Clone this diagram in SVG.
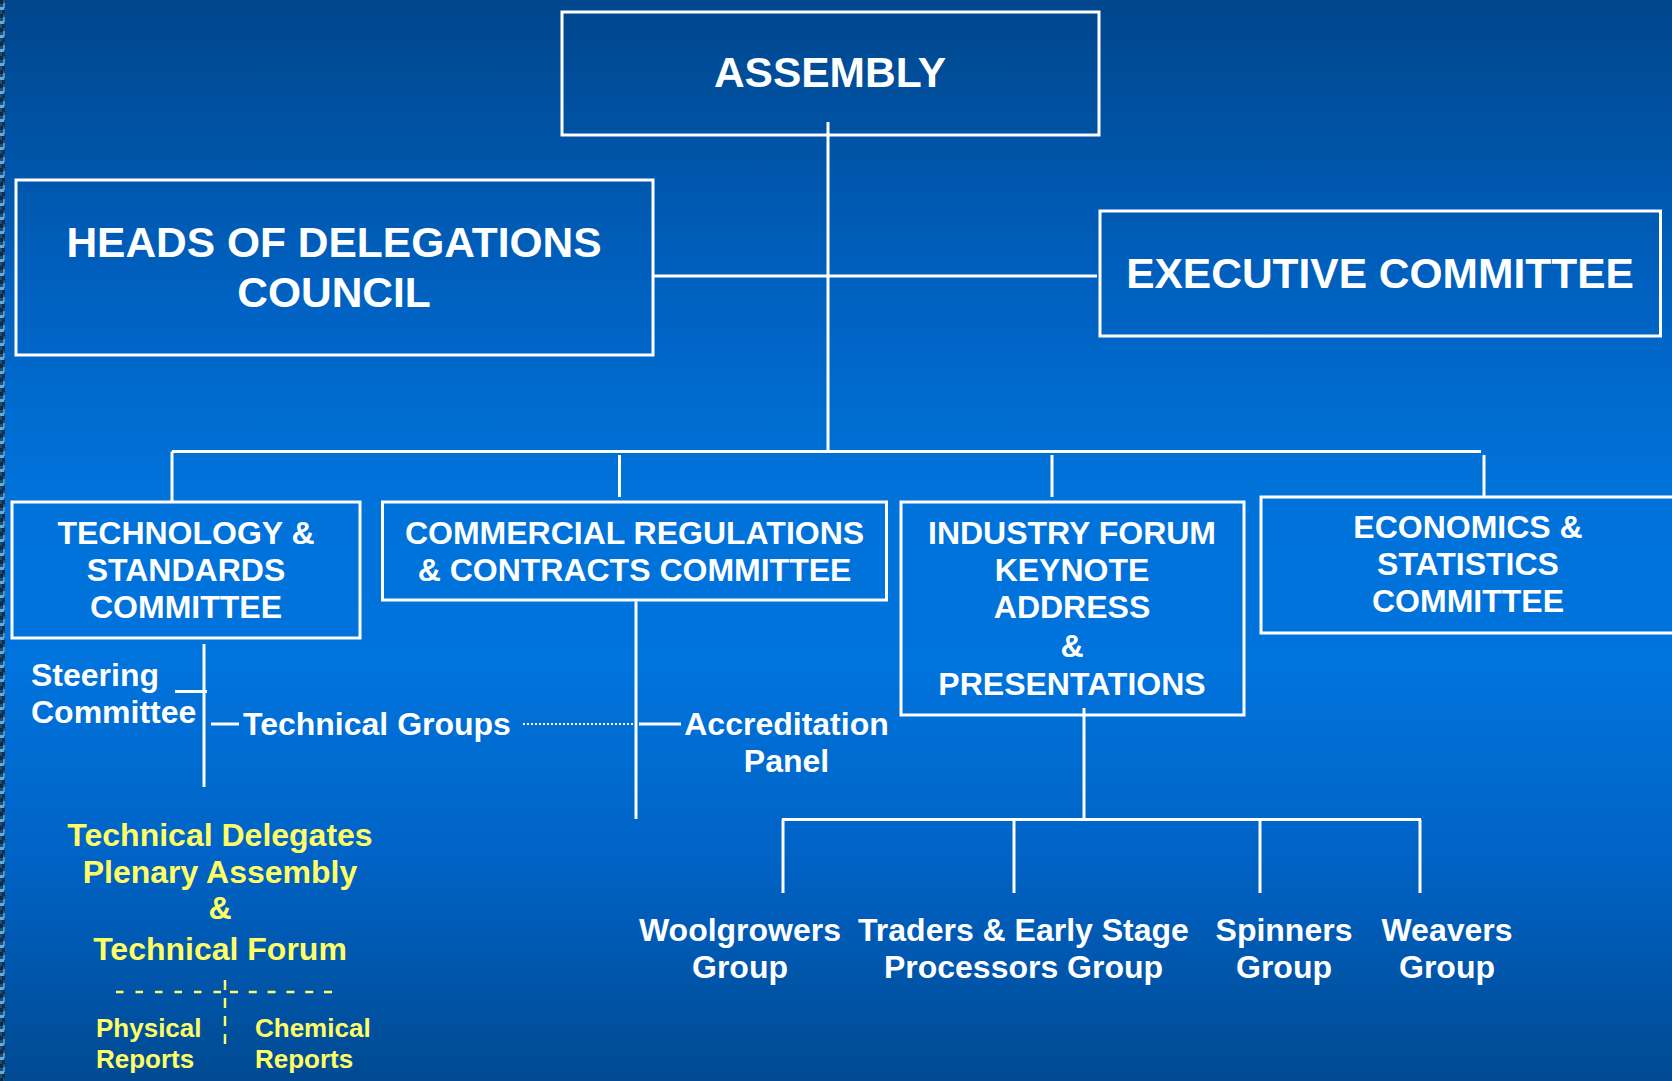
<svg xmlns="http://www.w3.org/2000/svg" width="1672" height="1081" viewBox="0 0 1672 1081">
  <defs>
    <linearGradient id="bg" x1="0" y1="0" x2="0" y2="1">
      <stop offset="0" stop-color="#00468c"/>
      <stop offset="0.25" stop-color="#005fbd"/>
      <stop offset="0.45" stop-color="#0072da"/>
      <stop offset="0.62" stop-color="#0073dc"/>
      <stop offset="0.8" stop-color="#0062c4"/>
      <stop offset="1" stop-color="#004a92"/>
    </linearGradient>
    <pattern id="strip" x="0" y="0" width="6" height="14" patternUnits="userSpaceOnUse">
      <rect width="6" height="14" fill="#1d4e78"/>
      <rect x="0" y="0" width="3" height="4" fill="#0d2a44"/>
      <rect x="3" y="3" width="3" height="5" fill="#4f93c8"/>
      <rect x="0" y="7" width="4" height="3" fill="#6aaad8"/>
      <rect x="2" y="10" width="4" height="4" fill="#112f4c"/>
    </pattern>
    <style>
      .box { fill: none; stroke: #ffffff; stroke-width: 3; }
      .conn { fill: none; stroke: #ffffff; stroke-width: 3; }
      .dot { fill: none; stroke: #ffffff; stroke-width: 2; stroke-dasharray: 2 2; }
      .ydash { fill: none; stroke: #ffff66; stroke-width: 2.5; }
      text { font-family: "Liberation Sans", Arial, sans-serif; font-weight: bold; fill: #ffffff; }
      .big { font-size: 42.5px; text-anchor: middle; }
      .mid { font-size: 32px; text-anchor: middle; }
      .lbl { font-size: 32px; }
      .ctr { text-anchor: middle; }
      .yel { fill: #ffff66; }
      .sm { font-size: 26px; }
    </style>
  </defs>

  <rect width="1672" height="1081" fill="url(#bg)"/>
  <rect x="0" y="0" width="5" height="1081" fill="url(#strip)"/>

  <g id="connectors">
    <line class="conn" x1="828" y1="122" x2="828" y2="451.5"/>
    <line class="conn" x1="653" y1="276" x2="1097" y2="276"/>
    <line class="conn" x1="172" y1="451.5" x2="1481" y2="451.5"/>
    <line class="conn" x1="172" y1="451.5" x2="172" y2="502"/>
    <line class="conn" x1="619.5" y1="455" x2="619.5" y2="497"/>
    <line class="conn" x1="1052" y1="455" x2="1052" y2="497"/>
    <line class="conn" x1="1484" y1="455" x2="1484" y2="496"/>
    <line class="conn" x1="204" y1="644" x2="204" y2="787"/>
    <line class="conn" x1="175" y1="691.5" x2="207" y2="691.5"/>
    <line class="conn" x1="211" y1="724" x2="239" y2="724"/>
    <line class="dot" x1="523" y1="724" x2="633" y2="724"/>
    <line class="conn" x1="636" y1="601.5" x2="636" y2="819"/>
    <line class="conn" x1="639" y1="724" x2="681" y2="724"/>
    <line class="conn" x1="1084" y1="708" x2="1084" y2="819.5"/>
    <line class="conn" x1="782" y1="819.5" x2="1421" y2="819.5"/>
    <line class="conn" x1="783" y1="819.5" x2="783" y2="893"/>
    <line class="conn" x1="1014" y1="819.5" x2="1014" y2="893"/>
    <line class="conn" x1="1260" y1="819.5" x2="1260" y2="893"/>
    <line class="conn" x1="1420" y1="819.5" x2="1420" y2="893"/>
    <line class="ydash" x1="116" y1="992" x2="221" y2="992" stroke-dasharray="7.5 12"/>
    <line class="ydash" x1="230" y1="992" x2="332" y2="992" stroke-dasharray="8 10.8"/>
    <line class="ydash" x1="225" y1="980" x2="225" y2="1047" stroke-dasharray="10 8"/>
  </g>

  <g id="assembly">
    <rect class="box" x="562" y="12" width="537" height="123"/>
    <text class="big" x="830" y="87">ASSEMBLY</text>
  </g>

  <g id="heads-of-delegations">
    <rect class="box" x="16" y="180" width="637" height="175"/>
    <text class="big" x="334" y="257">HEADS OF DELEGATIONS</text>
    <text class="big" x="334" y="307">COUNCIL</text>
  </g>

  <g id="executive-committee">
    <rect class="box" x="1100" y="211" width="560.5" height="125"/>
    <text class="big" x="1380" y="288">EXECUTIVE COMMITTEE</text>
  </g>

  <g id="technology-standards">
    <rect class="box" x="12" y="502" width="348" height="136"/>
    <text class="mid" x="186" y="544">TECHNOLOGY &amp;</text>
    <text class="mid" x="186" y="581">STANDARDS</text>
    <text class="mid" x="186" y="618">COMMITTEE</text>
  </g>

  <g id="commercial-regulations">
    <rect class="box" x="382.5" y="502" width="504" height="98"/>
    <text class="mid" x="634.5" y="544">COMMERCIAL REGULATIONS</text>
    <text class="mid" x="634.5" y="581">&amp; CONTRACTS COMMITTEE</text>
  </g>

  <g id="industry-forum">
    <rect class="box" x="901" y="502" width="343" height="213"/>
    <text class="mid" x="1072" y="544">INDUSTRY FORUM</text>
    <text class="mid" x="1072" y="581">KEYNOTE</text>
    <text class="mid" x="1072" y="618">ADDRESS</text>
    <text class="mid" x="1072" y="657">&amp;</text>
    <text class="mid" x="1072" y="695">PRESENTATIONS</text>
  </g>

  <g id="economics-statistics">
    <rect class="box" x="1261" y="497" width="430" height="136"/>
    <text class="mid" x="1468" y="538">ECONOMICS &amp;</text>
    <text class="mid" x="1468" y="575">STATISTICS</text>
    <text class="mid" x="1468" y="612">COMMITTEE</text>
  </g>

  <g id="steering-committee">
    <text class="lbl" x="31" y="686">Steering</text>
    <text class="lbl" x="31" y="723">Committee</text>
  </g>

  <g id="technical-groups">
    <text class="lbl" x="243" y="735">Technical Groups</text>
  </g>

  <g id="accreditation-panel">
    <text class="lbl ctr" x="786.5" y="735">Accreditation</text>
    <text class="lbl ctr" x="786.5" y="772">Panel</text>
  </g>

  <g id="woolgrowers-group">
    <text class="lbl ctr" x="740" y="941">Woolgrowers</text>
    <text class="lbl ctr" x="740" y="978">Group</text>
  </g>

  <g id="traders-group">
    <text class="lbl ctr" x="1023.5" y="941">Traders &amp; Early Stage</text>
    <text class="lbl ctr" x="1023.5" y="978">Processors Group</text>
  </g>

  <g id="spinners-group">
    <text class="lbl ctr" x="1284" y="941">Spinners</text>
    <text class="lbl ctr" x="1284" y="978">Group</text>
  </g>

  <g id="weavers-group">
    <text class="lbl ctr" x="1447" y="941">Weavers</text>
    <text class="lbl ctr" x="1447" y="978">Group</text>
  </g>

  <g id="technical-delegates">
    <text class="lbl ctr yel" x="220" y="846">Technical Delegates</text>
    <text class="lbl ctr yel" x="220" y="883">Plenary Assembly</text>
    <text class="lbl ctr yel" x="220" y="919">&amp;</text>
    <text class="lbl ctr yel" x="220" y="960">Technical Forum</text>
  </g>

  <g id="physical-reports">
    <text class="sm yel" x="96" y="1037">Physical</text>
    <text class="sm yel" x="96" y="1068">Reports</text>
  </g>

  <g id="chemical-reports">
    <text class="sm yel" x="255" y="1037">Chemical</text>
    <text class="sm yel" x="255" y="1068">Reports</text>
  </g>
</svg>
